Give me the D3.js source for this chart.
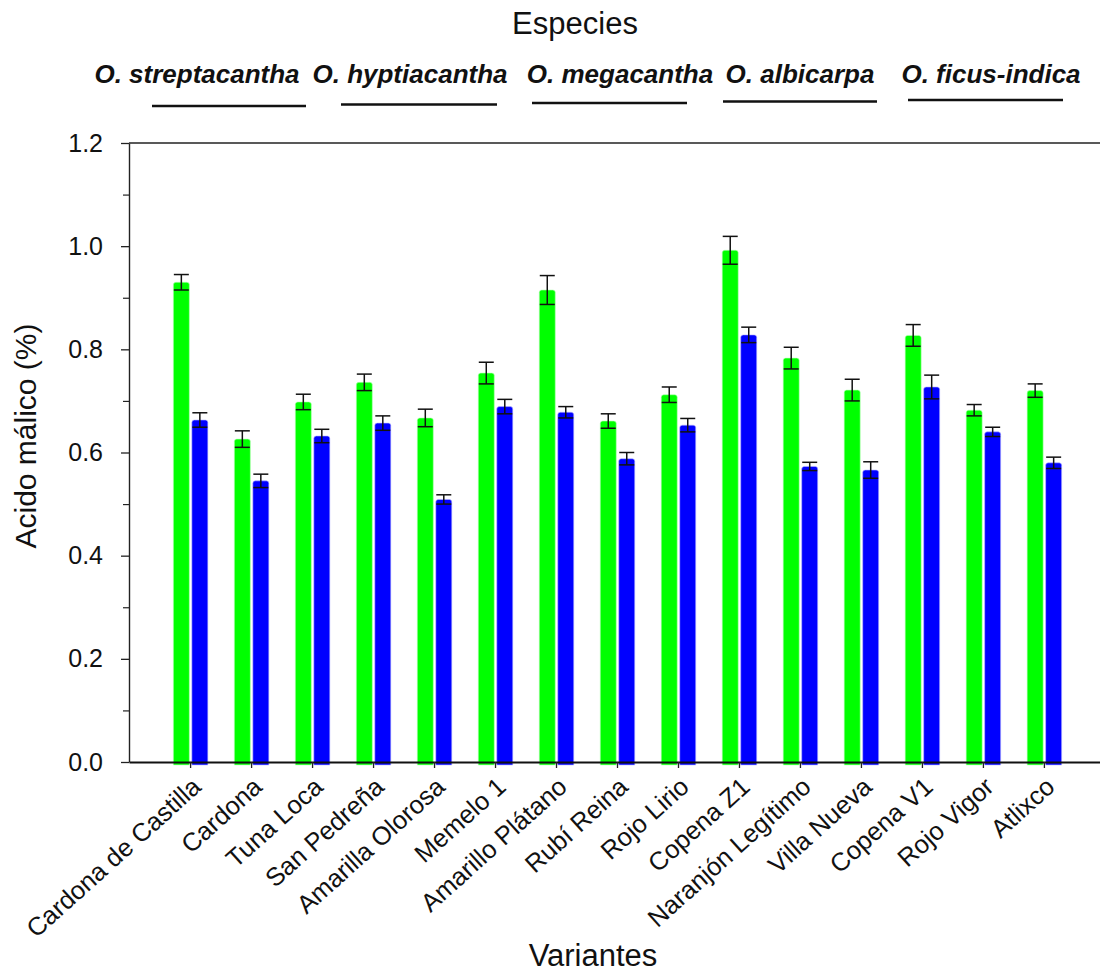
<!DOCTYPE html>
<html>
<head>
<meta charset="utf-8">
<script src="https://cdn.jsdelivr.net/npm/d3@7"></script>
<style>
  html, body { margin: 0; padding: 0; background: #fff; }
  svg { display: block; font-family: "Liberation Sans", Arial, Helvetica, sans-serif; }
</style>
</head>
<body>
<svg id="chart" width="1100" height="973"></svg>
<script>
const categories = ["Cardona de Castilla", "Cardona", "Tuna Loca", "San Pedreña", "Amarilla Olorosa",
  "Memelo 1", "Amarillo Plátano", "Rubí Reina", "Rojo Lirio", "Copena Z1",
  "Naranjón Legítimo", "Villa Nueva", "Copena V1", "Rojo Vigor", "Atlixco"];
const seriesNames = ["A", "B"];
const seriesColors = ["#00ff00", "#0000ff"];
const valuesA = [0.930, 0.626, 0.698, 0.736, 0.667, 0.754, 0.915, 0.661, 0.712, 0.992, 0.783, 0.721, 0.827, 0.682, 0.720];
const errorsA = [0.015, 0.016, 0.015, 0.016, 0.017, 0.021, 0.028, 0.014, 0.015, 0.027, 0.021, 0.021, 0.021, 0.011, 0.013];
const valuesB = [0.663, 0.545, 0.632, 0.657, 0.509, 0.689, 0.678, 0.588, 0.653, 0.828, 0.573, 0.566, 0.727, 0.640, 0.580];
const errorsB = [0.014, 0.013, 0.013, 0.014, 0.009, 0.014, 0.011, 0.012, 0.013, 0.015, 0.008, 0.016, 0.023, 0.009, 0.011];
const yMajorTicks = [0.0, 0.2, 0.4, 0.6, 0.8, 1.0, 1.2];
const yMinorTicks = [0.1, 0.3, 0.5, 0.7, 0.9, 1.1];
const speciesLabels = ["O. streptacantha", "O. hyptiacantha", "O. megacantha", "O. albicarpa", "O. ficus-indica"];
const titleTop = "Especies";
const titleX = "Variantes";
const titleY = "Acido málico (%)";

// layout
const L = 129, R = 1106, T = 143, B = 762;
const svg = d3.select("#chart");

const x = d3.scaleBand().domain(categories).range([L, R]).paddingInner(0).paddingOuter(0.51);
const sub = d3.scaleBand().domain(seriesNames).range([-17.25, 17.25]).paddingInner(0.135);
const y = d3.scaleLinear().domain([0, 1.2]).range([B, T]);

const rows = categories.map((c, i) => ({
  cat: c,
  vals: [
    {s: "A", v: valuesA[i], e: errorsA[i], color: seriesColors[0]},
    {s: "B", v: valuesB[i], e: errorsB[i], color: seriesColors[1]}
  ]
}));

// top frame line
svg.append("line").attr("x1", L).attr("x2", 1100).attr("y1", y(1.2)).attr("y2", y(1.2))
  .attr("stroke", "#222").attr("stroke-width", 1.6);

// bars
const g = svg.append("g");
const groups = g.selectAll("g.cat").data(rows).join("g")
  .attr("transform", d => `translate(${x(d.cat) + x.bandwidth() / 2},0)`);

groups.selectAll("path.bar").data(d => d.vals).join("path")
  .attr("class", "bar")
  .attr("fill", d => d.color)
  .attr("stroke", d => d.s === "A" ? "#b8ffb8" : "#b8b8ff")
  .attr("stroke-width", 0.6)
  .attr("d", d => {
    const x0 = sub(d.s), w = sub.bandwidth(), yt = y(d.v), yb = y(0) + 3, r = 2.5;
    return `M${x0},${yb} L${x0},${yt + r} Q${x0},${yt} ${x0 + r},${yt} L${x0 + w - r},${yt} Q${x0 + w},${yt} ${x0 + w},${yt + r} L${x0 + w},${yb} Z`;
  });

// error bars
const eb = groups.selectAll("g.err").data(d => d.vals).join("g").attr("class", "err")
  .attr("transform", d => `translate(${sub(d.s) + sub.bandwidth() / 2},0)`);
eb.append("line").attr("x1", 0).attr("x2", 0)
  .attr("y1", d => y(d.v + d.e)).attr("y2", d => y(d.v - d.e))
  .attr("stroke", "#111").attr("stroke-width", 1.5);
eb.append("line").attr("x1", -7.5).attr("x2", 7.5)
  .attr("y1", d => y(d.v + d.e)).attr("y2", d => y(d.v + d.e))
  .attr("stroke", "#111").attr("stroke-width", 1.5);
eb.append("line").attr("x1", -7.5).attr("x2", 7.5)
  .attr("y1", d => y(d.v - d.e)).attr("y2", d => y(d.v - d.e))
  .attr("stroke", "#111").attr("stroke-width", 1.5);

// y axis
const yAxis = svg.append("g").attr("transform", `translate(${L},0)`)
  .call(d3.axisLeft(y).tickValues(yMajorTicks).tickFormat(d3.format(".1f")).tickSize(8).tickSizeOuter(0).tickPadding(18));
yAxis.select(".domain").attr("stroke", "#222").attr("stroke-width", 1.4);
yAxis.selectAll(".tick line").attr("stroke", "#222").attr("stroke-width", 1.3);
yAxis.selectAll(".tick text").attr("font-size", 25).attr("fill", "#111")
  .attr("font-family", "'Liberation Sans', Arial, sans-serif");
const yMinor = svg.append("g").attr("transform", `translate(${L},0)`)
  .call(d3.axisLeft(y).tickValues(yMinorTicks).tickFormat("").tickSize(6).tickSizeOuter(0));
yMinor.select(".domain").remove();
yMinor.selectAll(".tick line").attr("stroke", "#222").attr("stroke-width", 1.2);

// x axis
const xAxis = svg.append("g").attr("transform", `translate(0,${B})`)
  .call(d3.axisBottom(x).tickSize(6).tickSizeOuter(0));
xAxis.select(".domain").attr("stroke", "#111").attr("stroke-width", 2.2);
xAxis.selectAll(".tick line").attr("stroke", "#222").attr("stroke-width", 1.3);
xAxis.selectAll(".tick text")
  .attr("font-size", 25.5).attr("fill", "#111")
  .attr("font-family", "'Liberation Sans', Arial, sans-serif")
  .attr("text-anchor", "end")
  .attr("x", 0).attr("y", 0).attr("dy", null)
  .attr("transform", "translate(12,27) rotate(-42)");

// titles
svg.append("text").attr("x", 575).attr("y", 34).attr("text-anchor", "middle")
  .attr("font-size", 31).attr("fill", "#111").text(titleTop);
svg.append("text").attr("x", 593).attr("y", 966).attr("text-anchor", "middle")
  .attr("font-size", 31).attr("fill", "#111").text(titleX);
svg.append("text").attr("transform", `translate(36,${436}) rotate(-90)`).attr("text-anchor", "middle")
  .attr("font-size", 30).attr("fill", "#111").text(titleY);

// species labels with underlines
const speciesTextX = [197, 410, 620, 800, 991];
const speciesLine = [[152, 306, 106], [341, 497, 104.5], [532, 687, 103], [723, 877, 101.5], [908, 1063, 100]];
speciesLabels.forEach((s, i) => {
  svg.append("text").attr("x", speciesTextX[i]).attr("y", 83).attr("text-anchor", "middle")
    .attr("font-size", 26).attr("font-weight", "bold").attr("font-style", "italic")
    .attr("fill", "#111").text(s);
  svg.append("line").attr("x1", speciesLine[i][0]).attr("x2", speciesLine[i][1])
    .attr("y1", speciesLine[i][2]).attr("y2", speciesLine[i][2])
    .attr("stroke", "#111").attr("stroke-width", 2.4);
});
</script>
</body>
</html>
